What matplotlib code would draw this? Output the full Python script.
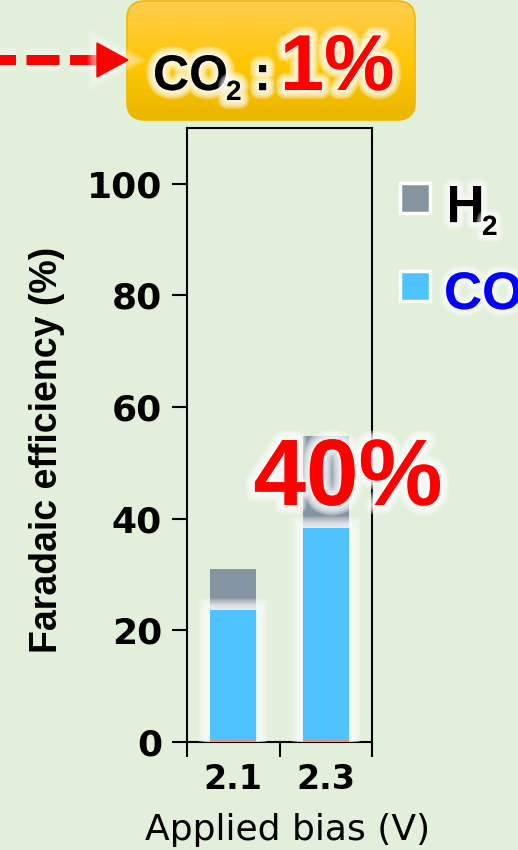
import matplotlib
matplotlib.use("Agg")
import matplotlib.pyplot as plt
import matplotlib.patheffects as pe
from matplotlib.patches import Rectangle, FancyBboxPatch, Polygon
import numpy as np

# efficacites faradiques (%) par tension appliquee
biais = ["2.1", "2.3"]
fe_autre = [0.4, 0.4]
fe_co = [23.3, 38.0]
fe_h2 = [7.3, 16.4]

fond = "#E2EFDA"
bleu = "#4FC3FF"
gris = "#8594A1"
saumon = "#F4877A"
arial = "Liberation Sans"


def halo(w_max, n=6, a=0.2, col="white"):
    # contour blanc flou autour d'un trace
    effets = []
    for k in range(n):
        w = w_max * (n - k) / n
        effets.append(pe.Stroke(linewidth=w, foreground=col, alpha=a))
    effets.append(pe.Normal())
    return effets


fig = plt.figure(figsize=(5.18, 8.5), dpi=100, facecolor=fond)

ax = fig.add_axes([187 / 518, 108 / 850, 185 / 518, 614 / 850])
ax.set_facecolor(fond)
x = np.arange(len(biais))
larg = 0.5

bas_h2 = np.add(fe_autre, fe_co)
ax.bar(x, fe_h2, bottom=bas_h2, width=larg, color=gris, zorder=3)
barres = ax.bar(x, bas_h2, width=larg, color=bleu, zorder=4)
for b in barres:
    b.set_path_effects(halo(17, n=14, a=0.13))
ax.bar(x, fe_autre, width=larg, color=saumon, zorder=5)

ax.set_xlim(-0.5, 1.5)
ax.set_ylim(0, 110)
ax.set_yticks(range(0, 101, 20))
ax.set_yticklabels([str(v) for v in range(0, 101, 20)], fontsize=26, fontweight="bold")
ax.tick_params(axis="y", direction="out", length=11, width=1.5, pad=7)

ax.set_xticks([-0.5, 0.5, 1.5])
ax.set_xticklabels([])
ax.tick_params(axis="x", which="major", direction="out", length=11, width=1.5)
ax.set_xticks(x, minor=True)
ax.set_xticklabels(biais, minor=True, fontsize=24, fontweight="bold")
ax.tick_params(axis="x", which="minor", length=0, pad=15)
for s in ax.spines.values():
    s.set_linewidth(1.5)

fig.text(47 / 518, 1 - 450 / 850, "Faradaic efficiency (%)", rotation=90,
         ha="center", va="center", fontsize=27, fontweight="bold", family=arial)

# calque en pixels pour les annotations
ov = fig.add_axes([0, 0, 1, 1], zorder=10)
ov.patch.set_visible(False)
ov.axis("off")

ov.text(288, 840, "Applied bias (V)", ha="center", va="baseline", fontsize=26)

# cartouche CO2
boite = FancyBboxPatch((127, 1), 288, 119, boxstyle="round,pad=0,rounding_size=18",
                       facecolor="none", edgecolor="#F2B700", linewidth=1.2, zorder=3)
ov.add_patch(boite)
haut = np.array([255, 205, 80]) / 255
milieu = np.array([255, 198, 0]) / 255
bas = np.array([233, 182, 0]) / 255
t = np.linspace(0, 1, 100)[:, None]
grad = np.where(t < 0.55, haut + (milieu - haut) * (t / 0.55), milieu + (bas - milieu) * ((t - 0.55) / 0.45))
img = ov.imshow(grad[:, None, :], extent=(127, 415, 120, 1), aspect="auto", zorder=2)
img.set_clip_path(boite)

glow_txt = halo(13, n=8, a=0.22)
ov.text(153, 90, "CO", fontsize=36, fontweight="bold", family=arial, color="black",
        va="baseline", path_effects=glow_txt, zorder=5)
ov.text(226, 100, "2", fontsize=20, fontweight="bold", family=arial, color="black",
        va="baseline", path_effects=glow_txt, zorder=5)
ov.text(254, 90, ":", fontsize=35, fontweight="bold", family=arial, color="black",
        va="baseline", path_effects=glow_txt, zorder=5)
ov.text(280, 90, "1%", fontsize=57, fontweight="bold", family=arial, color="red",
        va="baseline", path_effects=glow_txt, zorder=5)

# fleche en pointilles
ov.plot([103, 0], [60, 60], color="red", lw=7.2, dashes=(3.3, 1.05),
        solid_capstyle="butt", dash_capstyle="butt", path_effects=halo(20, n=8, a=0.1), zorder=4)
ov.add_patch(Polygon([(97, 43), (128, 60), (97, 77)], closed=True, color="red",
                     path_effects=halo(14, n=8, a=0.1), zorder=4))

# legende
ov.add_patch(Rectangle((400, 183), 30, 30, facecolor=gris, edgecolor="white", linewidth=2.5, zorder=4))
ov.add_patch(Rectangle((400, 271), 30, 30, facecolor=bleu, edgecolor="white", linewidth=2.5, zorder=4))
ov.text(446, 222, "H", fontsize=38, fontweight="bold", family=arial, color="black",
        va="baseline", path_effects=halo(10, n=6, a=0.22), zorder=5)
ov.text(482, 235, "2", fontsize=20, fontweight="bold", family=arial, color="black",
        va="baseline", path_effects=halo(10, n=6, a=0.22), zorder=5)
ov.text(444, 309, "CO", fontsize=38, fontweight="bold", family=arial, color="#0000FF",
        va="baseline", path_effects=halo(10, n=6, a=0.22), zorder=5)

ov.text(348, 505, "40%", fontsize=68, fontweight="bold", family=arial, color="red",
        ha="center", va="baseline", path_effects=halo(14, n=8, a=0.22), zorder=6)

ov.set_xlim(0, 518)
ov.set_ylim(850, 0)

plt.savefig("out.png", dpi=100, facecolor=fond)
